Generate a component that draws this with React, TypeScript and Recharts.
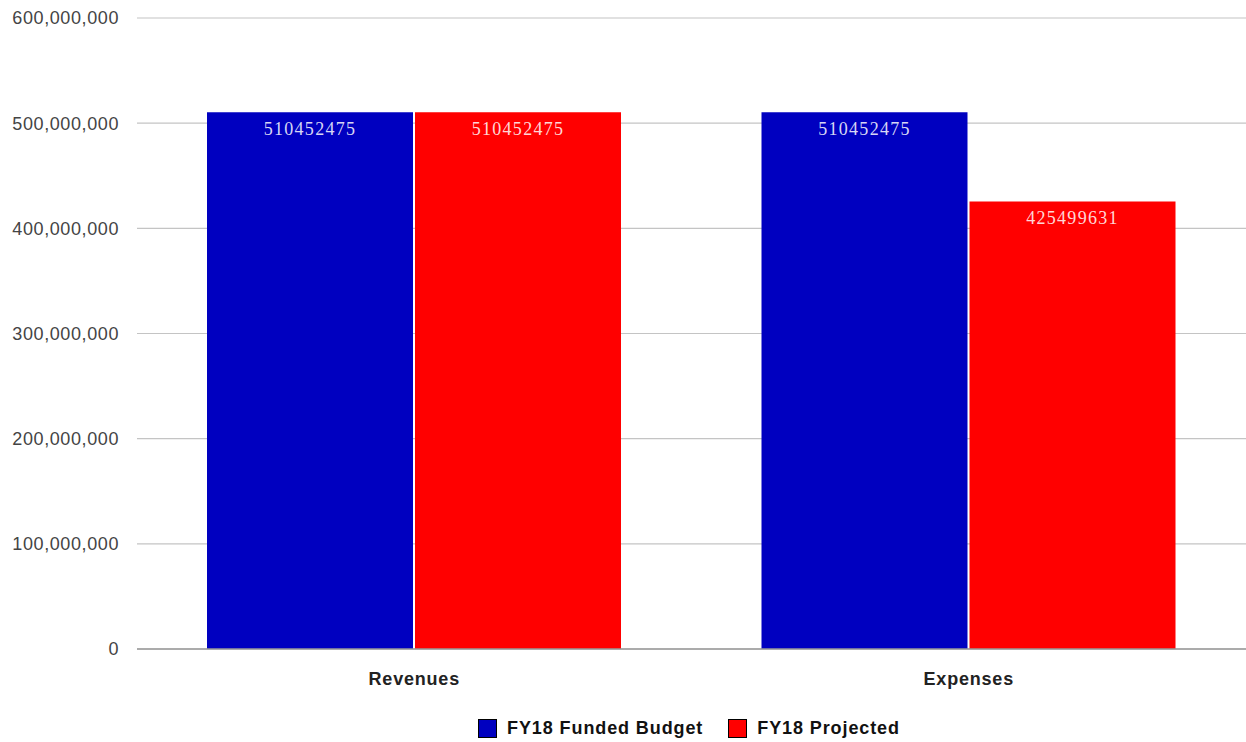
import { BarChart, Bar, XAxis, YAxis, CartesianGrid, Legend, LabelList } from 'recharts';

const categories = ['Revenues', 'Expenses'];
const fundedBudget = [510452475, 510452475];
const projected = [510452475, 425499631];
const yTicks = [0, 100000000, 200000000, 300000000, 400000000, 500000000, 600000000];

const BLUE = '#0000c0';
const RED = '#ff0000';

const data = categories.map((name, i) => ({
  name,
  funded: fundedBudget[i],
  projected: projected[i]
}));

const legendItems = [
  { label: 'FY18 Funded Budget', color: BLUE },
  { label: 'FY18 Projected', color: RED }
];

function LegendContent() {
  return (
    <div
      style={{
        height: 53,
        boxSizing: 'border-box',
        paddingTop: 29,
        paddingLeft: 132,
        display: 'flex',
        justifyContent: 'center',
        gap: 25,
        fontFamily: '"Liberation Sans", Arial, sans-serif',
        fontWeight: 700,
        fontSize: 18,
        letterSpacing: 0.9,
        color: '#111'
      }}
    >
      {legendItems.map(item => (
        <div key={item.label} style={{ display: 'flex', alignItems: 'center', height: 20 }}>
          <span
            style={{
              display: 'inline-block',
              width: 17,
              height: 17,
              background: item.color,
              border: '1px solid #000',
              marginRight: 10
            }}
          />
          <span>{item.label}</span>
        </div>
      ))}
    </div>
  );
}

const labelStyle = {
  fill: '#ffffff',
  fillOpacity: 0.85,
  fontFamily: '"Liberation Serif", "DejaVu Serif", serif',
  fontSize: 18,
  letterSpacing: 1.3
};

export default function App() {
  return (
    <div style={{ position: 'absolute', left: 0, top: 0, width: 1246, height: 742, background: '#fff' }}>
      <BarChart
        width={1246}
        height={742}
        data={data}
        margin={{ top: 18, right: 0, bottom: 0, left: 0 }}
        barCategoryGap={70}
        barGap={2}
      >
        <CartesianGrid vertical={false} stroke="#c4c4c4" strokeWidth={1.2} />
        <XAxis
          dataKey="name"
          height={40}
          axisLine={{ stroke: '#999', strokeWidth: 1.5 }}
          tickLine={false}
          tickMargin={17}
          tick={{
            fill: '#222',
            fontSize: 18,
            fontWeight: 700,
            letterSpacing: 0.8,
            fontFamily: '"Liberation Sans", Arial, sans-serif'
          }}
        />
        <YAxis
          width={137}
          domain={[0, 600000000]}
          ticks={yTicks}
          axisLine={false}
          tickLine={false}
          tickMargin={12}
          tickFormatter={(v: number) => v.toLocaleString('en-US')}
          tick={{
            fill: '#444',
            fontSize: 18,
            letterSpacing: 0.6,
            fontFamily: '"Liberation Sans", Arial, sans-serif'
          }}
        />
        <Legend verticalAlign="bottom" content={<LegendContent />} />
        <Bar dataKey="funded" name="FY18 Funded Budget" fill={BLUE} isAnimationActive={false}>
          <LabelList dataKey="funded" position="insideTop" offset={10} style={labelStyle} />
        </Bar>
        <Bar dataKey="projected" name="FY18 Projected" fill={RED} isAnimationActive={false}>
          <LabelList dataKey="projected" position="insideTop" offset={10} style={labelStyle} />
        </Bar>
      </BarChart>
    </div>
  );
}
